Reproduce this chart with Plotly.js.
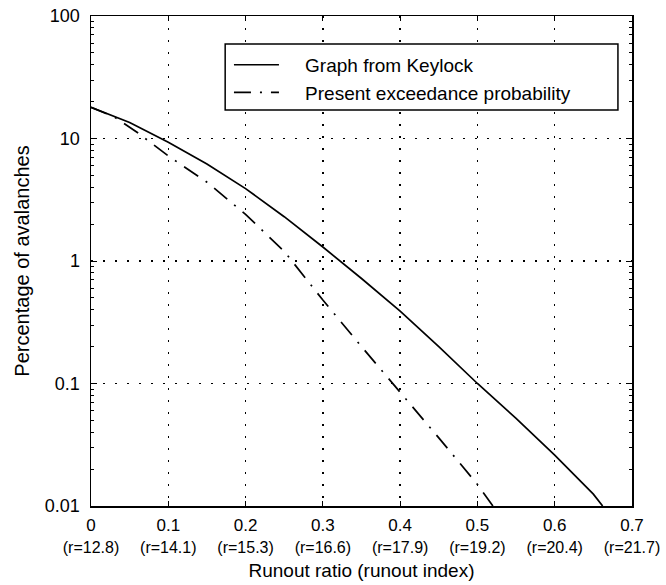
<!DOCTYPE html>
<html>
<head>
<meta charset="utf-8">
<script src="https://cdn.plot.ly/plotly-3.0.1.min.js"></script>
<style>html,body{margin:0;padding:0;background:#fff;}#chart{width:666px;height:585px;}</style>
</head>
<body>
<div id="chart"></div>
<script>
// Runout ratio values
const keylockX = [0, 0.05, 0.1, 0.15, 0.2, 0.25, 0.3, 0.35, 0.4, 0.45, 0.5, 0.55, 0.6, 0.65, 0.662];
const keylockY = [18, 13.5, 9.3, 6.2, 3.9, 2.3, 1.3, 0.72, 0.39, 0.2, 0.1, 0.052, 0.026, 0.0125, 0.01];
const presentX = [0, 0.03, 0.06, 0.1, 0.15, 0.2, 0.25, 0.3, 0.35, 0.4, 0.45, 0.5, 0.52];
const presentY = [18, 15, 11.2, 7.2, 4.4, 2.4, 1.2, 0.48, 0.2, 0.085, 0.036, 0.015, 0.01];
const xTickVals = [0, 0.1, 0.2, 0.3, 0.4, 0.5, 0.6, 0.7];
const xTickMain = ["0", "0.1", "0.2", "0.3", "0.4", "0.5", "0.6", "0.7"];
const xTickIndex = ["(r=12.8)", "(r=14.1)", "(r=15.3)", "(r=16.6)", "(r=17.9)", "(r=19.2)", "(r=20.4)", "(r=21.7)"];
const yTickVals = [0.01, 0.1, 1, 10, 100];
const yTickText = ["0.01", "0.1", "1", "10", "100"];
const yMinorVals = [0.02, 0.03, 0.04, 0.05, 0.06, 0.07, 0.08, 0.09,
                    0.2, 0.3, 0.4, 0.5, 0.6, 0.7, 0.8, 0.9,
                    2, 3, 4, 5, 6, 7, 8, 9,
                    20, 30, 40, 50, 60, 70, 80, 90];
const seriesNames = ["Graph from Keylock", "Present exceedance probability"];

const FONT = "Liberation Sans, Arial, Helvetica, sans-serif";
const pad = "\u00A0\u00A0\u00A0\u00A0";
const traces = [
  {x: keylockX, y: keylockY, name: pad + seriesNames[0], mode: "lines",
   line: {color: "#000", width: 1.7}},
  {x: presentX, y: presentY, name: pad + seriesNames[1], mode: "lines",
   line: {color: "#000", width: 1.7, dash: "17px,9px,2px,9px"}}
];

const xTickText = xTickMain.map((m, i) =>
  m + "<br><span style='font-size:16px'>" + xTickIndex[i] + "</span>");

const grid = {showgrid: true, gridcolor: "#000", griddash: "1.5px,10.5px", gridwidth: 1.5};

const layout = {
  width: 666, height: 585,
  margin: {l: 91, r: 34, t: 16, b: 79},
  paper_bgcolor: "#fff", plot_bgcolor: "#fff",
  font: {family: FONT, color: "#000", size: 18},
  showlegend: true,
  legend: {x: 0.255, y: 0.939, xanchor: "left", yanchor: "top",
    borderwidth: 0, bgcolor: "rgba(0,0,0,0)", itemwidth: 45,
    font: {family: FONT, size: 19, color: "#000"}, tracegroupgap: 0},
  shapes: [{type: "rect", xref: "paper", yref: "paper", layer: "above",
    x0: 0.248, x1: 0.974, y0: 0.808, y1: 0.943,
    line: {color: "#000", width: 1.5}, fillcolor: "#fff"}],
  xaxis: Object.assign({
    range: [0, 0.7], tickmode: "array", tickvals: xTickVals, ticktext: xTickText,
    ticks: "inside", ticklen: 5, tickcolor: "#000", ticklabelstandoff: 3,
    showline: true, linecolor: "#000", linewidth: 1.5, mirror: "ticks",
    zeroline: false, tickfont: {size: 17},
    title: {text: "Runout ratio (runout index)", font: {size: 19}, standoff: 8}
  }, grid),
  yaxis: Object.assign({
    type: "log", range: [-2, 2], tickmode: "array", tickvals: yTickVals, ticktext: yTickText,
    ticks: "inside", ticklen: 6, tickcolor: "#000", ticklabelstandoff: 6,
    showline: true, linecolor: "#000", linewidth: 1.5, mirror: "ticks",
    zeroline: false, tickfont: {size: 18},
    minor: {tickmode: "array", tickvals: yMinorVals, ticks: "inside", ticklen: 3,
            tickcolor: "#000", showgrid: false},
    title: {text: "Percentage of avalanches", font: {size: 20}, standoff: 10}
  }, grid)
};
Plotly.newPlot("chart", traces, layout, {displayModeBar: false, staticPlot: true});
</script>
</body>
</html>
